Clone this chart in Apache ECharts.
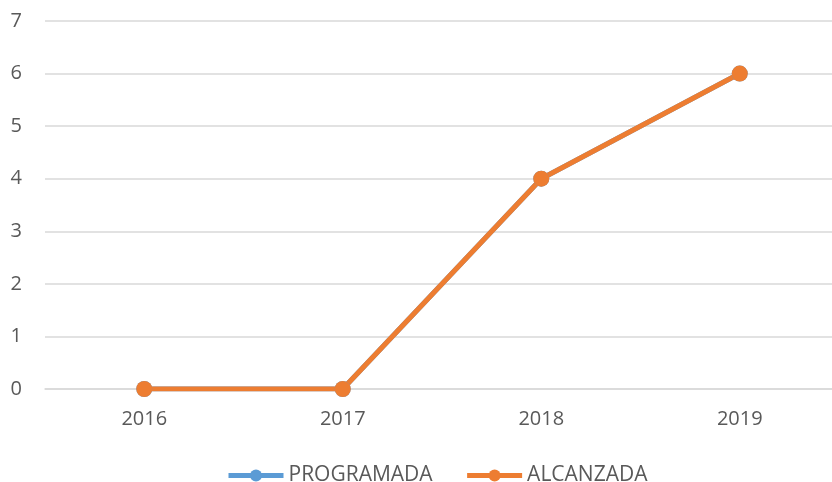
<!DOCTYPE html>
<html>
<head>
<meta charset="utf-8">
<script src="https://cdn.jsdelivr.net/npm/echarts@6/dist/echarts.min.js"></script>
<style>
  html, body { margin: 0; padding: 0; background: #fff; }
  #chart { width: 832px; height: 482px; }
</style>
</head>
<body>
<div id="chart"></div>
<script>
const years = ['2016', '2017', '2018', '2019']
const programada = [0, 0, 4, 6]
const alcanzada = [0, 0, 4, 6]

const textColor = '#595959'
const gridColor = '#D9D9D9'

const chart = echarts.init(document.getElementById('chart'))

function lineSeries(name, data, color) {
  return {
    name: name,
    type: 'line',
    data: data,
    symbol: 'circle',
    symbolSize: 16,
    itemStyle: { color: color },
    lineStyle: { color: color, width: 5 },
    animation: false
  }
}

chart.setOption({
  backgroundColor: '#fff',
  textStyle: { fontFamily: 'Open Sans, Noto Sans, sans-serif' },
  grid: {
    left: 45,
    top: 21,
    right: -7,
    bottom: 93,
    outerBoundsMode: 'none'
  },
  legend: {
    top: 460,
    left: 221,
    itemWidth: 55,
    itemHeight: 15,
    itemGap: 32,
    lineStyle: { width: 5 },
    textStyle: { color: textColor, fontSize: 21 },
    data: ['PROGRAMADA', 'ALCANZADA']
  },
  xAxis: {
    type: 'category',
    data: years,
    axisLine: { lineStyle: { color: gridColor, width: 1.5 } },
    axisTick: { show: false },
    axisLabel: { color: textColor, fontSize: 20, margin: 20 }
  },
  yAxis: {
    type: 'value',
    min: 0,
    max: 7,
    interval: 1,
    axisLine: { show: false },
    axisTick: { show: false },
    splitLine: { lineStyle: { color: gridColor, width: 1.5 } },
    axisLabel: { color: textColor, fontSize: 20, margin: 23 }
  },
  series: [
    lineSeries('PROGRAMADA', programada, '#5B9BD5'),
    lineSeries('ALCANZADA', alcanzada, '#ED7D31')
  ]
})
</script>
</body>
</html>
